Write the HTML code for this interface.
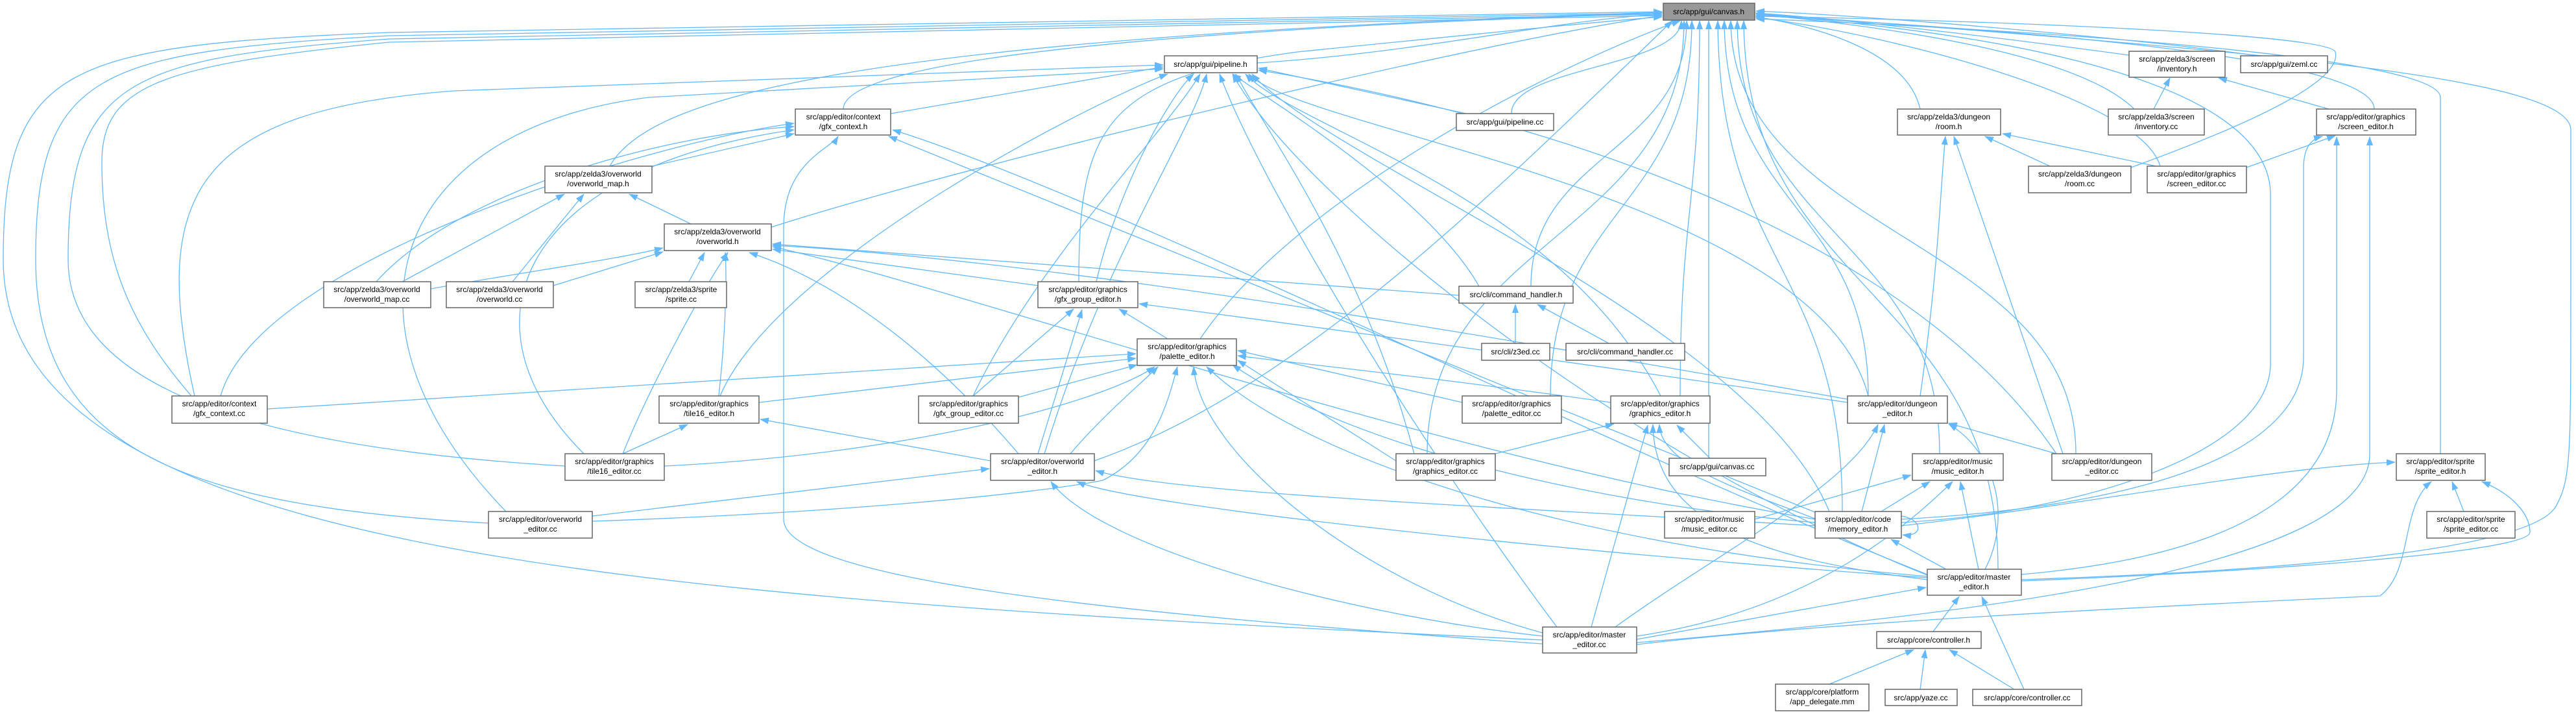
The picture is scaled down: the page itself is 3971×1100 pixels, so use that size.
<!DOCTYPE html>
<html><head><meta charset="utf-8"><style>
html,body{margin:0;padding:0;background:#fff;}
svg{display:block;}
text{font-family:"Liberation Sans",sans-serif;font-size:12px;fill:#000;text-anchor:middle;}
.n{fill:#fff;stroke:#666;stroke-width:1.5;}
.e{fill:none;stroke:#63b8ff;stroke-width:1.3;marker-end:url(#ah);}
</style></head><body>
<svg width="3971" height="1100" viewBox="0 0 3971 1100" xmlns="http://www.w3.org/2000/svg">
<defs><marker id="ah" markerUnits="userSpaceOnUse" markerWidth="14" markerHeight="10" refX="13" refY="5" orient="auto"><path d="M0,0 L14,5 L0,10 z" fill="#63b8ff"/></marker></defs>
<g>
<!-- edges into canvas.h -->
<path class="e" d="M1938,97 C2200,80 2400,30 2562,22"/>
<path class="e" d="M1300,168 C1300,60 2300,30 2562,20"/>
<path class="e" d="M1189,350 C1500,250 2300,60 2562,24"/>
<path class="e" d="M940,256 C1000,150 1300,60 2562,19"/>
<path class="e" d="M2378,986 C1000,920 5,860 5,400 C5,100 100,70 600,50 L2562,18"/>
<path class="e" d="M753,806 C300,780 55,700 55,400 C55,110 150,80 600,55 L2562,20"/>
<path class="e" d="M871,718 C400,690 105,600 105,400 C105,120 200,90 600,60 L2562,22"/>
<path class="e" d="M295,610 C200,500 157,400 157,250 C157,130 250,100 600,65 L2562,24"/>
<path class="e" d="M1663,434 C1663,200 1700,120 2000,80 C2300,50 2500,30 2562,26"/>
<path class="e" d="M1850,522 C2000,300 2400,100 2590,32"/>
<path class="e" d="M2330,175 C2330,103 2590,103 2592,32"/>
<path class="e" d="M2360,441 C2360,236 2600,236 2600,32"/>
<path class="e" d="M2390,610 C2390,321 2608,321 2608,32"/>
<path class="e" d="M2200,699 C2200,365 2596,365 2596,32"/>
<path class="e" d="M2590,610 C2590,321 2620,321 2620,32"/>
<path class="e" d="M2634,706 L2634,32"/>
<path class="e" d="M2840,788 C2840,410 2650,410 2648,32"/>
<path class="e" d="M2880,610 C2880,321 2660,321 2658,32"/>
<path class="e" d="M3200,699 C3200,365 2670,365 2668,32"/>
<path class="e" d="M2990,699 C2990,365 2680,365 2678,32"/>
<path class="e" d="M3080,877 C3080,450 2690,450 2688,32"/>
<path class="e" d="M1687,710 C2000,600 2300,300 2578,32"/>
<path class="e" d="M2960,168 C2940,80 2800,40 2707,26"/>
<path class="e" d="M3282,85 C3100,60 2850,30 2707,20"/>
<path class="e" d="M3480,86 C3300,60 2900,25 2707,17"/>
<path class="e" d="M3290,168 C3200,80 2900,40 2707,22"/>
<path class="e" d="M3660,168 C3660,80 3000,40 2707,24"/>
<path class="e" d="M3330,256 C3300,150 2900,50 2707,27"/>
<path class="e" d="M3762,699 L3762,150 C3762,80 3000,40 2707,29"/>
<path class="e" d="M3285,258 C3500,180 3610,120 3600,80 C3590,50 3000,30 2707,25"/>
<path class="e" d="M2931,805 C3200,790 3500,700 3500,560 L3500,300 C3500,150 3200,60 2707,22"/>
<path class="e" d="M3116,893 C3500,880 3900,850 3940,780 C3963,740 3963,700 3963,450 L3963,200 C3963,120 3500,80 2707,21"/>
<!-- screen editor / sprite editor -->
<path class="e" d="M2931,800 C3300,780 3551,700 3551,550 L3551,260 C3551,230 3560,215 3580,210"/>
<path class="e" d="M3116,885 C3400,860 3602,780 3602,600 L3602,211"/>
<path class="e" d="M2523,990 C3000,950 3653,880 3653,700 L3653,211"/>
<path class="e" d="M3463,258 L3600,209"/>
<path class="e" d="M3590,168 L3420,120"/>
<path class="e" d="M3320,168 L3345,120"/>
<path class="e" d="M2931,810 C3200,780 3500,720 3692,712"/>
<path class="e" d="M3116,895 C3500,880 3900,850 3900,820 C3900,790 3870,760 3826,742"/>
<path class="e" d="M2523,993 C2800,960 3300,935 3669,918 C3720,880 3700,780 3748,742"/>
<path class="e" d="M3798,788 L3780,742"/>
<!-- master editor, controller -->
<path class="e" d="M2523,985 L2969,905"/>
<path class="e" d="M2980,973 L3020,919"/>
<path class="e" d="M3120,1062 L3055,919"/>
<path class="e" d="M2820,1054 L2950,1001"/>
<path class="e" d="M2960,1062 L2968,1001"/>
<path class="e" d="M3105,1062 L3005,1001"/>
<path class="e" d="M3000,877 L2915,831"/>
<path class="e" d="M3050,877 L3022,742"/>
<path class="e" d="M3060,877 C3100,800 3080,700 3004,653"/>
<path class="e" d="M2971,893 C2700,860 2550,800 2548,654"/>
<path class="e" d="M2971,890 C2400,850 1750,780 1660,742"/>
<path class="e" d="M2971,888 C2400,840 2000,700 1860,565"/>
<path class="e" d="M2971,885 C2500,700 1700,300 1376,200"/>
<path class="e" d="M2971,886 C2500,700 2000,300 1900,114"/>
<path class="e" d="M2490,966 C2650,850 2850,750 2895,654"/>
<path class="e" d="M2453,966 L2540,655"/>
<path class="e" d="M2523,980 C2800,940 2950,800 3010,742"/>
<path class="e" d="M2378,980 C2100,950 1700,850 1620,742"/>
<path class="e" d="M2378,975 C2100,900 1850,700 1840,565"/>
<path class="e" d="M2400,966 C2200,700 1950,300 1880,114"/>
<path class="e" d="M2378,992 C1800,950 1208,900 1208,800 L1208,350 C1208,250 1280,230 1292,210"/>
<!-- memory editor -->
<path class="e" d="M2800,800 C2700,760 2560,720 2558,654"/>
<path class="e" d="M2870,788 L2905,654"/>
<path class="e" d="M2900,788 L2975,742"/>
<path class="e" d="M2798,805 C2500,780 2100,700 1900,562"/>
<path class="e" d="M2798,810 C2300,780 1800,760 1689,725"/>
<path class="e" d="M2798,800 C2200,700 1500,450 1191,380"/>
<path class="e" d="M2800,790 L1370,210"/>
<path class="e" d="M2820,788 C2700,500 2050,250 1930,114"/>
<path class="e" d="M2931,795 C2965,800 2965,828 2933,824"/>
<path class="e" d="M2705,800 L2946,732"/>
<!-- dungeon -->
<path class="e" d="M3170,699 L3004,652"/>
<path class="e" d="M2960,610 C2990,400 2990,300 2999,210"/>
<path class="e" d="M3180,699 L3012,210"/>
<path class="e" d="M3160,256 L3060,210"/>
<path class="e" d="M3338,259 L3087,206"/>
<path class="e" d="M2848,620 C2300,540 2000,500 1756,468"/>
<path class="e" d="M2848,615 C2200,500 1600,400 1191,378"/>
<path class="e" d="M2880,610 C2800,300 2000,200 1925,114"/>
<path class="e" d="M3170,699 C2900,300 2200,150 1940,108"/>
<!-- graphics -->
<path class="e" d="M2305,699 L2488,653"/>
<path class="e" d="M2636,706 L2585,655"/>
<path class="e" d="M2483,620 C2200,580 2000,560 1908,548"/>
<path class="e" d="M2560,610 C2400,300 2000,200 1920,114"/>
<path class="e" d="M2254,620 L1908,540"/>
<path class="e" d="M2152,710 L1908,555"/>
<path class="e" d="M2180,699 C2100,400 1950,200 1905,114"/>
<!-- command handler, pipeline -->
<path class="e" d="M2249,455 C1800,420 1400,390 1191,376"/>
<path class="e" d="M2280,441 C2200,300 1950,150 1900,114"/>
<path class="e" d="M2336,529 L2336,469"/>
<path class="e" d="M2480,529 L2370,469"/>
<path class="e" d="M2260,175 L1940,105"/>
<path class="e" d="M1373,175 L1793,103"/>
<!-- gfx group / palette -->
<path class="e" d="M1800,522 L1725,476"/>
<path class="e" d="M1500,610 L1655,476"/>
<path class="e" d="M1600,699 L1668,477"/>
<path class="e" d="M1600,440 L1191,384"/>
<path class="e" d="M1690,434 C1720,300 1800,150 1840,114"/>
<path class="e" d="M1170,620 L1751,552"/>
<path class="e" d="M412,630 C900,600 1400,570 1751,545"/>
<path class="e" d="M1570,612 L1753,562"/>
<path class="e" d="M1650,699 C1700,640 1760,590 1785,565"/>
<path class="e" d="M1024,718 C1400,700 1700,620 1780,565"/>
<path class="e" d="M913,803 C1300,790 1600,760 1700,740 C1780,700 1800,620 1815,565"/>
<path class="e" d="M1500,610 C1600,400 1800,200 1850,114"/>
<path class="e" d="M1610,699 C1700,400 1840,200 1860,114"/>
<!-- tile16 / overworld -->
<path class="e" d="M960,699 L1060,654"/>
<path class="e" d="M1527,710 L1172,646"/>
<path class="e" d="M1110,610 C1200,400 1700,150 1800,114"/>
<path class="e" d="M664,445 C800,420 950,400 1022,382"/>
<path class="e" d="M853,440 C950,410 1000,395 1022,388"/>
<path class="e" d="M1062,434 L1086,389"/>
<path class="e" d="M1108,610 C1120,500 1120,420 1118,389"/>
<path class="e" d="M1570,699 C1400,500 1250,420 1155,389"/>
<path class="e" d="M960,699 C1000,600 1080,450 1122,389"/>
<path class="e" d="M1065,345 L970,299"/>
<path class="e" d="M620,434 L870,299"/>
<path class="e" d="M790,434 L900,299"/>
<path class="e" d="M1005,256 L1224,206"/>
<path class="e" d="M340,610 C400,400 1000,220 1224,190"/>
<path class="e" d="M580,434 C700,300 1000,210 1224,195"/>
<path class="e" d="M900,699 C700,500 800,260 1224,200"/>
<path class="e" d="M913,795 L1525,722"/>
<path class="e" d="M300,610 C230,300 300,170 700,140 L1793,100"/>
<path class="e" d="M780,788 C500,500 600,200 1000,150 L1793,106"/>
</g>
<g>
<rect x="2564" y="5" width="141" height="26" fill="#999" stroke="#666" stroke-width="1.5"/><text x="2634" y="22">src/app/gui/canvas.h</text>
<rect class="n" x="1795" y="86" width="143" height="26"/><text x="1866" y="103">src/app/gui/pipeline.h</text>
<rect class="n" x="1226" y="168" width="147" height="40"/><text x="1300" y="184">src/app/editor/context</text><text x="1300" y="199">/gfx_context.h</text>
<rect class="n" x="840" y="256" width="165" height="41"/><text x="922" y="272">src/app/zelda3/overworld</text><text x="922" y="287">/overworld_map.h</text>
<rect class="n" x="1024" y="345" width="165" height="41"/><text x="1106" y="361">src/app/zelda3/overworld</text><text x="1106" y="376">/overworld.h</text>
<rect class="n" x="499" y="434" width="165" height="40"/><text x="581" y="450">src/app/zelda3/overworld</text><text x="581" y="465">/overworld_map.cc</text>
<rect class="n" x="688" y="434" width="165" height="40"/><text x="770" y="450">src/app/zelda3/overworld</text><text x="770" y="465">/overworld.cc</text>
<rect class="n" x="979" y="434" width="141" height="40"/><text x="1050" y="450">src/app/zelda3/sprite</text><text x="1050" y="465">/sprite.cc</text>
<rect class="n" x="1600" y="434" width="154" height="40"/><text x="1677" y="450">src/app/editor/graphics</text><text x="1677" y="465">/gfx_group_editor.h</text>
<rect class="n" x="1753" y="522" width="153" height="41"/><text x="1830" y="538">src/app/editor/graphics</text><text x="1830" y="553">/palette_editor.h</text>
<rect class="n" x="2245" y="175" width="150" height="26"/><text x="2320" y="192">src/app/gui/pipeline.cc</text>
<rect class="n" x="2249" y="441" width="176" height="26"/><text x="2337" y="458">src/cli/command_handler.h</text>
<rect class="n" x="2284" y="529" width="105" height="26"/><text x="2336" y="546">src/cli/z3ed.cc</text>
<rect class="n" x="2414" y="529" width="183" height="26"/><text x="2505" y="546">src/cli/command_handler.cc</text>
<rect class="n" x="2925" y="168" width="159" height="40"/><text x="3004" y="184">src/app/zelda3/dungeon</text><text x="3004" y="199">/room.h</text>
<rect class="n" x="3282" y="79" width="148" height="40"/><text x="3356" y="95">src/app/zelda3/screen</text><text x="3356" y="110">/inventory.h</text>
<rect class="n" x="3454" y="86" width="134" height="26"/><text x="3521" y="103">src/app/gui/zeml.cc</text>
<rect class="n" x="3250" y="168" width="148" height="40"/><text x="3324" y="184">src/app/zelda3/screen</text><text x="3324" y="199">/inventory.cc</text>
<rect class="n" x="3571" y="168" width="153" height="40"/><text x="3647" y="184">src/app/editor/graphics</text><text x="3647" y="199">/screen_editor.h</text>
<rect class="n" x="3127" y="256" width="158" height="41"/><text x="3206" y="272">src/app/zelda3/dungeon</text><text x="3206" y="287">/room.cc</text>
<rect class="n" x="3310" y="256" width="153" height="41"/><text x="3386" y="272">src/app/editor/graphics</text><text x="3386" y="287">/screen_editor.cc</text>
<rect class="n" x="265" y="610" width="147" height="42"/><text x="338" y="626">src/app/editor/context</text><text x="338" y="641">/gfx_context.cc</text>
<rect class="n" x="871" y="699" width="153" height="41"/><text x="947" y="715">src/app/editor/graphics</text><text x="947" y="730">/tile16_editor.cc</text>
<rect class="n" x="753" y="788" width="160" height="41"/><text x="833" y="804">src/app/editor/overworld</text><text x="833" y="819">_editor.cc</text>
<rect class="n" x="1016" y="610" width="154" height="42"/><text x="1093" y="626">src/app/editor/graphics</text><text x="1093" y="641">/tile16_editor.h</text>
<rect class="n" x="1416" y="610" width="154" height="42"/><text x="1493" y="626">src/app/editor/graphics</text><text x="1493" y="641">/gfx_group_editor.cc</text>
<rect class="n" x="1527" y="699" width="160" height="41"/><text x="1607" y="715">src/app/editor/overworld</text><text x="1607" y="730">_editor.h</text>
<rect class="n" x="2254" y="610" width="153" height="42"/><text x="2330" y="626">src/app/editor/graphics</text><text x="2330" y="641">/palette_editor.cc</text>
<rect class="n" x="2483" y="610" width="153" height="42"/><text x="2559" y="626">src/app/editor/graphics</text><text x="2559" y="641">/graphics_editor.h</text>
<rect class="n" x="2848" y="610" width="154" height="42"/><text x="2925" y="626">src/app/editor/dungeon</text><text x="2925" y="641">_editor.h</text>
<rect class="n" x="2152" y="699" width="153" height="41"/><text x="2228" y="715">src/app/editor/graphics</text><text x="2228" y="730">/graphics_editor.cc</text>
<rect class="n" x="2573" y="706" width="149" height="27"/><text x="2647" y="723">src/app/gui/canvas.cc</text>
<rect class="n" x="2948" y="699" width="140" height="41"/><text x="3018" y="715">src/app/editor/music</text><text x="3018" y="730">/music_editor.h</text>
<rect class="n" x="2566" y="788" width="139" height="41"/><text x="2635" y="804">src/app/editor/music</text><text x="2635" y="819">/music_editor.cc</text>
<rect class="n" x="2798" y="788" width="133" height="41"/><text x="2864" y="804">src/app/editor/code</text><text x="2864" y="819">/memory_editor.h</text>
<rect class="n" x="2971" y="877" width="145" height="40"/><text x="3043" y="893">src/app/editor/master</text><text x="3043" y="908">_editor.h</text>
<rect class="n" x="2378" y="966" width="145" height="40"/><text x="2450" y="982">src/app/editor/master</text><text x="2450" y="997">_editor.cc</text>
<rect class="n" x="2893" y="973" width="161" height="26"/><text x="2973" y="990">src/app/core/controller.h</text>
<rect class="n" x="2737" y="1054" width="144" height="41"/><text x="2809" y="1070">src/app/core/platform</text><text x="2809" y="1085">/app_delegate.mm</text>
<rect class="n" x="2906" y="1062" width="111" height="25"/><text x="2961" y="1079">src/app/yaze.cc</text>
<rect class="n" x="3041" y="1062" width="168" height="25"/><text x="3125" y="1079">src/app/core/controller.cc</text>
<rect class="n" x="3163" y="699" width="154" height="41"/><text x="3240" y="715">src/app/editor/dungeon</text><text x="3240" y="730">_editor.cc</text>
<rect class="n" x="3694" y="699" width="137" height="41"/><text x="3762" y="715">src/app/editor/sprite</text><text x="3762" y="730">/sprite_editor.h</text>
<rect class="n" x="3741" y="788" width="136" height="41"/><text x="3809" y="804">src/app/editor/sprite</text><text x="3809" y="819">/sprite_editor.cc</text>
</g>
</svg>
</body></html>
